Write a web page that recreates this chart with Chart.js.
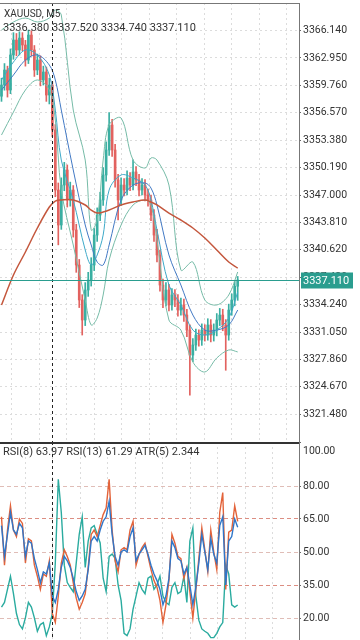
<!DOCTYPE html>
<html>
<head>
<meta charset="utf-8">
<title>XAUUSD M5</title>
<script src="https://cdn.jsdelivr.net/npm/chart.js@4.4.0/dist/chart.umd.min.js"></script>
<style>
  html, body { margin: 0; padding: 0; background: #fff; }
  #wrap { width: 360px; height: 640px; overflow: hidden; }
  canvas { display: block; }
</style>
</head>
<body>
<div id="wrap">
  <canvas id="priceChart" width="360" height="442"></canvas>
  <canvas id="rsiChart" width="360" height="198"></canvas>
</div>
<script>
// ========== DATA ==========
const symbolTitle = 'XAUUSD, M5';
const lastBar = [3336.380, 3337.520, 3334.740, 3337.110]; // O H L C

const openPrices = [
  3358.50, 3359.80, 3361.55, 3359.22, 3363.30, 3365.04, 3363.88, 3365.27, 3364.46, 3362.71,
  3365.62, 3363.88, 3361.55, 3362.71, 3360.39, 3361.32, 3358.64, 3359.80, 3354.57, 3347.58,
  3343.51, 3348.16, 3349.91, 3346.42, 3347.58, 3342.93, 3338.85, 3334.78, 3332.45, 3335.94,
  3337.11, 3338.85, 3342.34, 3344.67, 3346.42, 3349.33, 3352.24, 3355.15, 3352.24, 3348.75,
  3346.42, 3348.16, 3347.58, 3348.98, 3348.16, 3349.68, 3348.75, 3347.58, 3348.16, 3347.00,
  3346.42, 3344.67, 3342.34, 3340.02, 3336.52, 3334.78, 3335.94, 3334.20, 3335.36, 3334.78,
  3333.61, 3334.20, 3333.03, 3331.28, 3328.37, 3329.54, 3330.70, 3330.12, 3331.28, 3330.70,
  3331.87, 3330.70, 3331.28, 3332.45, 3333.03, 3331.87, 3330.70, 3333.61, 3334.78, 3336.38
];
const highPrices = [
  3360.6, 3362.3, 3362.0, 3364.0, 3365.9, 3365.8, 3366.0, 3365.9, 3365.0, 3366.2,
  3366.1, 3364.4, 3363.4, 3363.2, 3362.0, 3361.9, 3360.6, 3360.2, 3355.2, 3348.4,
  3349.0, 3350.8, 3350.5, 3348.5, 3348.1, 3343.6, 3339.5, 3335.4, 3336.8, 3338.0,
  3339.7, 3343.1, 3345.5, 3347.3, 3350.2, 3353.2, 3356.6, 3355.8, 3352.9, 3349.4,
  3349.0, 3348.9, 3349.8, 3349.6, 3351.1, 3350.3, 3349.4, 3348.9, 3348.8, 3347.7,
  3347.0, 3345.3, 3343.0, 3340.6, 3337.2, 3336.8, 3336.6, 3336.1, 3336.0, 3335.4,
  3335.0, 3334.9, 3333.7, 3331.9, 3330.3, 3331.4, 3331.3, 3332.0, 3331.9, 3332.6,
  3332.5, 3332.0, 3333.2, 3333.8, 3333.7, 3332.5, 3334.3, 3335.5, 3337.0, 3337.52
];
const lowPrices = [
  3357.9, 3359.2, 3358.4, 3358.8, 3362.8, 3363.2, 3363.3, 3363.8, 3362.0, 3362.3,
  3363.2, 3360.8, 3361.0, 3359.7, 3359.8, 3357.9, 3357.6, 3353.8, 3346.8, 3341.2,
  3343.0, 3347.5, 3345.6, 3345.7, 3342.1, 3338.0, 3333.9, 3330.7, 3331.8, 3335.2,
  3336.4, 3338.2, 3341.6, 3344.0, 3345.8, 3348.6, 3351.6, 3351.5, 3347.9, 3344.1,
  3345.8, 3346.9, 3347.0, 3347.5, 3347.6, 3348.1, 3346.9, 3347.0, 3346.3, 3345.7,
  3344.0, 3341.6, 3339.2, 3335.8, 3333.9, 3334.1, 3333.5, 3333.6, 3334.0, 3332.9,
  3333.0, 3332.3, 3330.5, 3323.7, 3327.6, 3328.9, 3329.4, 3329.5, 3330.0, 3330.1,
  3329.9, 3330.0, 3330.6, 3331.8, 3331.2, 3326.6, 3330.1, 3333.0, 3334.1, 3334.74
];
const closePrices = [
  3359.80, 3361.55, 3359.22, 3363.30, 3365.04, 3363.88, 3365.27, 3364.46, 3362.71, 3365.62,
  3363.88, 3361.55, 3362.71, 3360.39, 3361.32, 3358.64, 3359.80, 3354.57, 3347.58, 3343.51,
  3348.16, 3349.91, 3346.42, 3347.58, 3342.93, 3338.85, 3334.78, 3332.45, 3335.94, 3337.11,
  3338.85, 3342.34, 3344.67, 3346.42, 3349.33, 3352.24, 3355.15, 3352.24, 3348.75, 3346.42,
  3348.16, 3347.58, 3348.98, 3348.16, 3349.68, 3348.75, 3347.58, 3348.16, 3347.00, 3346.42,
  3344.67, 3342.34, 3340.02, 3336.52, 3334.78, 3335.94, 3334.20, 3335.36, 3334.78, 3333.61,
  3334.20, 3333.03, 3331.28, 3328.37, 3329.54, 3330.70, 3330.12, 3331.28, 3330.70, 3331.87,
  3330.70, 3331.28, 3332.45, 3333.03, 3331.87, 3330.70, 3333.61, 3334.78, 3336.38, 3337.11
];

// bar index of each point of the smooth indicator lines
const lineIdx = [0, 4, 8, 12, 16, 18, 20, 24, 28, 30, 32, 34, 36, 40, 44, 48, 50, 52, 56, 60, 64, 68, 72, 76, 79];
const maFast = [3360.39, 3362.48, 3363.88, 3363.30, 3360.97, 3356.89, 3351.07, 3346.42, 3340.60, 3338.85, 3340.02, 3342.34, 3347.58,
  3349.33, 3348.98, 3348.16, 3346.42, 3342.93, 3336.52, 3334.20, 3331.28, 3330.70, 3331.28, 3332.68, 3335.71];
const maSlow = [3359.22, 3360.97, 3362.71, 3363.30, 3362.13, 3360.39, 3356.89, 3349.91, 3343.51, 3341.18, 3339.20, 3338.85, 3341.18,
  3346.42, 3348.16, 3348.40, 3347.81, 3345.84, 3340.02, 3336.52, 3333.03, 3331.28, 3331.28, 3331.87, 3333.61];
const bbUpper = [3366.21, 3367.14, 3367.60, 3367.14, 3367.60, 3368.53, 3367.95, 3356.89, 3351.07, 3342.93, 3344.09, 3351.07, 3355.15,
  3355.96, 3351.07, 3350.14, 3351.31, 3351.07, 3348.16, 3338.27, 3339.20, 3334.78, 3334.20, 3335.36, 3338.04];
const bbLower = [3353.98, 3356.66, 3359.22, 3360.39, 3359.22, 3355.73, 3347.58, 3341.18, 3334.78, 3331.87, 3332.68, 3335.36, 3339.43,
  3343.51, 3345.84, 3346.42, 3345.84, 3341.76, 3332.45, 3331.28, 3327.56, 3326.40, 3328.03, 3328.96, 3328.73];
const ma200 = [3334.20, 3337.69, 3340.37, 3343.16, 3345.60, 3346.30, 3346.42, 3346.42, 3345.84, 3345.25, 3344.90, 3345.02, 3345.25,
  3345.84, 3346.19, 3346.42, 3346.19, 3345.84, 3344.90, 3344.09, 3343.16, 3341.99, 3340.60, 3339.20, 3338.50];

const priceTicks = [3321.480, 3324.670, 3327.860, 3331.050, 3334.240, 3337.430, 3340.620, 3343.810,
  3347.000, 3350.190, 3353.380, 3356.570, 3359.760, 3362.950, 3366.140];
const priceMin = 3318.25;
const priceMax = 3369.35;

const rsi8 = [
  66, 44, 60, 71, 60, 57, 65, 63, 45, 56, 55, 44, 39, 33, 40, 39, 46, 22, 18, 30,
  45, 51, 48, 44, 36, 29, 24, 27, 31, 43, 58, 60, 57, 62, 67, 70, 83, 60, 46, 41,
  51, 52, 51, 60, 64, 44, 49, 52, 54, 48, 42, 37, 34, 28, 18, 26, 37, 58, 54, 48,
  47, 38, 43, 32, 20, 33, 47, 61, 51, 41, 60, 50, 42, 68, 77, 33, 59, 60, 71, 63.97
];
const rsi13 = [
  62, 48, 58, 68, 60, 58, 63, 61, 48, 55, 54, 47, 42, 36, 41, 40, 45, 30, 27, 33,
  43, 48, 46, 43, 38, 32, 28, 30, 33, 42, 55, 57, 55, 60, 64, 66, 73, 58, 48, 44,
  50, 51, 50, 57, 61, 46, 49, 51, 53, 49, 44, 40, 37, 33, 26, 30, 38, 55, 52, 47,
  46, 40, 43, 35, 26, 34, 45, 58, 50, 42, 56, 49, 45, 62, 66, 35, 55, 57, 65, 61.29
];
const atr5 = [
  2.28, 2.42, 2.81, 3.20, 2.68, 2.09, 1.76, 1.63, 1.96, 2.42, 2.28, 1.96, 1.56, 1.76, 1.82, 1.43, 1.69, 2.09, 3.60, 6.09,
  5.10, 3.53, 3.01, 2.87, 2.74, 3.60, 4.45, 4.97, 3.46, 4.25, 4.64, 4.71, 4.45, 4.19, 3.14, 2.74, 3.79, 3.86, 3.73, 2.94,
  2.48, 1.50, 1.43, 1.63, 2.22, 2.61, 3.01, 2.81, 2.68, 3.14, 3.20, 2.81, 2.94, 3.20, 2.61, 2.42, 2.35, 2.87, 3.01, 2.68,
  2.74, 3.20, 2.42, 4.25, 4.64, 2.61, 1.89, 1.63, 1.56, 1.50, 1.37, 1.37, 1.50, 1.69, 1.82, 3.53, 3.27, 2.35, 2.28, 2.344
];
const rsiTicks = [20, 35, 50, 65, 80, 100];
const rsiLevels = [35, 65];

const xMin = -0.5;
const xMax = 99.5;
const crossIndex = 17;
const xGridTicks = [8, 17.2, 26.4, 35.6, 44.8, 54, 63.2, 72.4, 81.6, 90.8];

// ========== STYLE ==========
const BULL = '#3aafa2';
const BEAR = '#e2625f';
const PRICE_LINE = '#2a9d8f';
const GRID = '#dcdcdc';
const FONT = 'Roboto, "Noto Sans", sans-serif';
const AXIS_W = 61;

const candleColors = closePrices.map((c, i) => c >= openPrices[i] ? BULL : BEAR);
const wickData = highPrices.map((h, i) => ({ x: i, y: [lowPrices[i], h] }));
const bodyData = openPrices.map((o, i) => ({ x: i, y: [o, closePrices[i]] }));
const toPoints = vals => lineIdx.map((x, k) => ({ x, y: vals[k] }));
const series = vals => vals.map((y, i) => ({ x: i, y }));

function lineSet(label, data, color, width, order, extra) {
  return Object.assign({
    type: 'line', label, data, borderColor: color, borderWidth: width,
    pointRadius: 0, tension: 0.35, order
  }, extra || {});
}

function xScale() {
  return {
    type: 'linear', min: xMin, max: xMax, offset: false,
    ticks: { display: false },
    border: { display: false, dash: [2, 3] },
    grid: { color: GRID, drawTicks: false },
    afterBuildTicks: s => { s.ticks = xGridTicks.map(v => ({ value: v })); },
    afterFit: s => { s.height = 0; s.paddingLeft = 0; s.paddingRight = 0; }
  };
}

function drawCross(chart) {
  const { ctx, chartArea: a, scales: { x } } = chart;
  const cx = Math.round(x.getPixelForValue(crossIndex)) + 0.5;
  ctx.save();
  ctx.strokeStyle = '#222';
  ctx.lineWidth = 1;
  ctx.setLineDash([3, 3]);
  ctx.beginPath();
  ctx.moveTo(cx, a.top);
  ctx.lineTo(cx, a.bottom);
  ctx.stroke();
  ctx.restore();
}

// ========== PRICE PANEL ==========
const priceDecor = {
  id: 'priceDecor',
  afterDraw(chart) {
    const { ctx, chartArea: a, scales: { y } } = chart;
    drawCross(chart);
    ctx.save();
    // frame
    ctx.strokeStyle = '#777';
    ctx.lineWidth = 1;
    ctx.beginPath();
    ctx.moveTo(0, a.top + 0.5);
    ctx.lineTo(a.right, a.top + 0.5);
    ctx.moveTo(a.right + 0.5, a.top);
    ctx.lineTo(a.right + 0.5, a.bottom);
    ctx.stroke();

    // last price line + label
    const last = lastBar[3];
    const py = Math.round(y.getPixelForValue(last)) + 0.5;
    ctx.strokeStyle = PRICE_LINE;
    ctx.beginPath();
    ctx.moveTo(a.left, py);
    ctx.lineTo(a.right, py);
    ctx.stroke();
    ctx.fillStyle = PRICE_LINE;
    ctx.fillRect(a.right + 2, py - 8, 52, 16);
    ctx.fillStyle = '#fff';
    ctx.font = '11px ' + FONT;
    ctx.textBaseline = 'middle';
    ctx.fillText(last.toFixed(3), a.right + 4, py + 0.5);

    // header
    ctx.fillStyle = '#333';
    ctx.textBaseline = 'alphabetic';
    ctx.font = '10px ' + FONT;
    ctx.fillText(symbolTitle, 4, 17);
    ctx.font = '11px ' + FONT;
    ctx.fillText(lastBar.map(v => v.toFixed(3)).join(' '), 3, 31);
    ctx.restore();
  }
};

new Chart(document.getElementById('priceChart'), {
  type: 'bar',
  data: {
    datasets: [
      lineSet('MA 200', toPoints(ma200), '#c4573d', 1.5, 0),
      lineSet('MA fast', toPoints(maFast), '#3ea9c8', 1, 1),
      lineSet('MA slow', toPoints(maSlow), '#4279c4', 1, 2),
      lineSet('BB upper', toPoints(bbUpper), '#76bba7', 1, 3),
      lineSet('BB lower', toPoints(bbLower), '#76bba7', 1, 4),
      { type: 'bar', label: 'body', data: bodyData, backgroundColor: candleColors,
        barThickness: 2, minBarLength: 1, grouped: false, order: 5 },
      { type: 'bar', label: 'wick', data: wickData, backgroundColor: candleColors,
        barThickness: 1, grouped: false, order: 6 }
    ]
  },
  options: {
    responsive: false,
    maintainAspectRatio: false,
    devicePixelRatio: 1,
    animation: false,
    layout: { padding: { top: 3, left: 0, right: 0, bottom: 0 } },
    plugins: { legend: { display: false }, tooltip: { enabled: false } },
    scales: {
      x: xScale(),
      y: {
        position: 'right', min: priceMin, max: priceMax,
        ticks: { color: '#333', font: { family: FONT, size: 10.5 }, padding: 2,
          callback: v => v.toFixed(3) },
        border: { display: false, dash: [2, 3] },
        grid: { color: GRID, tickColor: '#666', tickLength: 2, tickBorderDash: [] },
        afterBuildTicks: s => { s.ticks = priceTicks.map(v => ({ value: v })); },
        afterFit: s => { s.width = AXIS_W; s.paddingTop = 0; s.paddingBottom = 0; }
      }
    }
  },
  plugins: [priceDecor]
});

// ========== RSI PANEL ==========
const rsiDecor = {
  id: 'rsiDecor',
  afterDraw(chart) {
    const { ctx, chartArea: a } = chart;
    drawCross(chart);
    ctx.save();
    ctx.strokeStyle = '#333';
    ctx.lineWidth = 2;
    ctx.beginPath();
    ctx.moveTo(0, 1);
    ctx.lineTo(a.right + 1, 1);
    ctx.stroke();
    ctx.strokeStyle = '#777';
    ctx.lineWidth = 1;
    ctx.beginPath();
    ctx.moveTo(a.right + 0.5, 0);
    ctx.lineTo(a.right + 0.5, a.bottom);
    ctx.stroke();

    ctx.fillStyle = '#333';
    ctx.font = '11px ' + FONT;
    ctx.textBaseline = 'alphabetic';
    const txt = 'RSI(8) ' + rsi8[rsi8.length - 1].toFixed(2) +
      ' RSI(13) ' + rsi13[rsi13.length - 1].toFixed(2) +
      ' ATR(5) ' + atr5[atr5.length - 1].toFixed(3);
    ctx.fillText(txt, 3, 13);
    ctx.font = '10.5px ' + FONT;
    ctx.fillText(rsiTicks[rsiTicks.length - 1].toFixed(2), a.right + 4, 12);
    ctx.restore();
  }
};

const levelColor = v => v === 100 ? 'rgba(0,0,0,0)' : (rsiLevels.includes(v) ? '#dc8e82' : '#e0bdb7');

new Chart(document.getElementById('rsiChart'), {
  type: 'line',
  data: {
    datasets: [
      lineSet('RSI(13)', series(rsi13), '#2f76c9', 1.4, 0, { tension: 0 }),
      lineSet('RSI(8)', series(rsi8), '#e3633a', 1.4, 1, { tension: 0 }),
      lineSet('ATR(5)', series(atr5), '#2aab9f', 1.4, 2, { tension: 0, yAxisID: 'yAtr' })
    ]
  },
  options: {
    responsive: false,
    maintainAspectRatio: false,
    devicePixelRatio: 1,
    animation: false,
    layout: { padding: 0 },
    plugins: { legend: { display: false }, tooltip: { enabled: false } },
    scales: {
      x: xScale(),
      y: {
        position: 'right', min: 10, max: 100,
        ticks: { color: '#333', font: { family: FONT, size: 10.5 }, padding: 2,
          callback: v => v === 100 ? '' : v.toFixed(2) },
        border: { display: false, dash: [4, 3] },
        grid: { color: c => levelColor(c.tick.value), tickColor: '#666', tickLength: 2, tickBorderDash: [] },
        afterBuildTicks: s => { s.ticks = rsiTicks.map(v => ({ value: v })); },
        afterFit: s => { s.width = AXIS_W; s.paddingTop = 0; s.paddingBottom = 0; }
      },
      yAtr: { display: false, min: 1.3, max: 7.2 }
    }
  },
  plugins: [rsiDecor]
});
</script>
</body>
</html>
